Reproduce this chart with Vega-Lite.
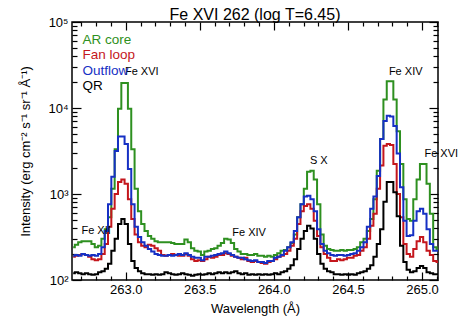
{
  "$schema": "https://vega.github.io/schema/vega-lite/v6.json",
  "width": 366,
  "height": 258,
  "autosize": {"type": "none"},
  "padding": {"left": 72, "top": 22, "right": 20, "bottom": 47},
  "title": {"text": "Fe XVI 262 (log T=6.45)", "fontSize": 16, "fontWeight": "normal", "font": "Liberation Sans", "offset": -7, "anchor": "middle", "color": "black"},
  "config": {
    "view": {"stroke": "black", "strokeWidth": 1.5},
    "font": "Liberation Sans",
    "axis": {"grid": false, "domain": false, "labelFont": "Liberation Sans", "titleFont": "Liberation Sans", "labelColor": "black", "titleColor": "black", "tickColor": "black", "tickWidth": 1.2, "labelFontSize": 13, "titleFontSize": 13, "titleFontWeight": "normal"}
  },
  "datasets": {
    "spec": [
      {"w":262.645,"AR core":240,"Fan loop":186,"Outflow":191,"QR":120},
      {"w":262.667,"AR core":257,"Fan loop":191,"Outflow":195,"QR":123},
      {"w":262.690,"AR core":275,"Fan loop":195,"Outflow":191,"QR":120},
      {"w":262.712,"AR core":282,"Fan loop":200,"Outflow":200,"QR":117},
      {"w":262.735,"AR core":282,"Fan loop":195,"Outflow":195,"QR":120},
      {"w":262.757,"AR core":282,"Fan loop":186,"Outflow":191,"QR":117},
      {"w":262.779,"AR core":263,"Fan loop":174,"Outflow":195,"QR":115},
      {"w":262.802,"AR core":240,"Fan loop":170,"Outflow":191,"QR":117},
      {"w":262.824,"AR core":251,"Fan loop":174,"Outflow":200,"QR":123},
      {"w":262.847,"AR core":302,"Fan loop":200,"Outflow":240,"QR":126},
      {"w":262.869,"AR core":389,"Fan loop":263,"Outflow":372,"QR":135},
      {"w":262.891,"AR core":537,"Fan loop":417,"Outflow":759,"QR":155},
      {"w":262.914,"AR core":1148,"Fan loop":676,"Outflow":1585,"QR":219},
      {"w":262.936,"AR core":3311,"Fan loop":1000,"Outflow":3162,"QR":302},
      {"w":262.959,"AR core":9772,"Fan loop":1380,"Outflow":4677,"QR":447},
      {"w":262.981,"AR core":19498,"Fan loop":1479,"Outflow":4677,"QR":513},
      {"w":263.003,"AR core":19498,"Fan loop":1318,"Outflow":3802,"QR":447},
      {"w":263.026,"AR core":9772,"Fan loop":871,"Outflow":1950,"QR":263},
      {"w":263.048,"AR core":3311,"Fan loop":513,"Outflow":759,"QR":166},
      {"w":263.071,"AR core":1148,"Fan loop":339,"Outflow":417,"QR":138},
      {"w":263.093,"AR core":631,"Fan loop":275,"Outflow":316,"QR":126},
      {"w":263.115,"AR core":447,"Fan loop":251,"Outflow":275,"QR":120},
      {"w":263.138,"AR core":372,"Fan loop":240,"Outflow":251,"QR":117},
      {"w":263.160,"AR core":324,"Fan loop":257,"Outflow":229,"QR":117},
      {"w":263.183,"AR core":302,"Fan loop":251,"Outflow":214,"QR":115},
      {"w":263.205,"AR core":282,"Fan loop":234,"Outflow":200,"QR":117},
      {"w":263.227,"AR core":275,"Fan loop":219,"Outflow":195,"QR":115},
      {"w":263.250,"AR core":275,"Fan loop":195,"Outflow":191,"QR":117},
      {"w":263.272,"AR core":275,"Fan loop":191,"Outflow":191,"QR":123},
      {"w":263.295,"AR core":275,"Fan loop":195,"Outflow":195,"QR":120},
      {"w":263.317,"AR core":269,"Fan loop":200,"Outflow":191,"QR":117},
      {"w":263.339,"AR core":263,"Fan loop":195,"Outflow":195,"QR":115},
      {"w":263.362,"AR core":263,"Fan loop":191,"Outflow":200,"QR":117},
      {"w":263.384,"AR core":263,"Fan loop":191,"Outflow":195,"QR":120},
      {"w":263.407,"AR core":295,"Fan loop":200,"Outflow":204,"QR":117},
      {"w":263.429,"AR core":275,"Fan loop":191,"Outflow":195,"QR":115},
      {"w":263.451,"AR core":234,"Fan loop":174,"Outflow":186,"QR":112},
      {"w":263.474,"AR core":219,"Fan loop":166,"Outflow":182,"QR":115},
      {"w":263.496,"AR core":214,"Fan loop":170,"Outflow":182,"QR":117},
      {"w":263.519,"AR core":195,"Fan loop":166,"Outflow":170,"QR":115},
      {"w":263.541,"AR core":214,"Fan loop":174,"Outflow":186,"QR":117},
      {"w":263.563,"AR core":219,"Fan loop":186,"Outflow":186,"QR":120},
      {"w":263.586,"AR core":229,"Fan loop":182,"Outflow":191,"QR":117},
      {"w":263.608,"AR core":234,"Fan loop":186,"Outflow":195,"QR":120},
      {"w":263.631,"AR core":251,"Fan loop":195,"Outflow":200,"QR":123},
      {"w":263.653,"AR core":269,"Fan loop":195,"Outflow":204,"QR":120},
      {"w":263.675,"AR core":302,"Fan loop":204,"Outflow":214,"QR":123},
      {"w":263.698,"AR core":295,"Fan loop":200,"Outflow":204,"QR":120},
      {"w":263.720,"AR core":269,"Fan loop":191,"Outflow":195,"QR":123},
      {"w":263.743,"AR core":229,"Fan loop":186,"Outflow":186,"QR":126},
      {"w":263.765,"AR core":214,"Fan loop":182,"Outflow":182,"QR":120},
      {"w":263.787,"AR core":200,"Fan loop":174,"Outflow":182,"QR":117},
      {"w":263.810,"AR core":200,"Fan loop":182,"Outflow":174,"QR":120},
      {"w":263.832,"AR core":195,"Fan loop":166,"Outflow":170,"QR":115},
      {"w":263.855,"AR core":195,"Fan loop":162,"Outflow":166,"QR":117},
      {"w":263.877,"AR core":200,"Fan loop":166,"Outflow":170,"QR":115},
      {"w":263.899,"AR core":191,"Fan loop":162,"Outflow":162,"QR":117},
      {"w":263.922,"AR core":191,"Fan loop":158,"Outflow":162,"QR":115},
      {"w":263.944,"AR core":186,"Fan loop":155,"Outflow":158,"QR":117},
      {"w":263.967,"AR core":191,"Fan loop":162,"Outflow":166,"QR":115},
      {"w":263.989,"AR core":186,"Fan loop":166,"Outflow":166,"QR":117},
      {"w":264.011,"AR core":195,"Fan loop":174,"Outflow":182,"QR":120},
      {"w":264.034,"AR core":204,"Fan loop":186,"Outflow":186,"QR":117},
      {"w":264.056,"AR core":219,"Fan loop":191,"Outflow":195,"QR":123},
      {"w":264.079,"AR core":224,"Fan loop":200,"Outflow":219,"QR":126},
      {"w":264.101,"AR core":240,"Fan loop":219,"Outflow":240,"QR":135},
      {"w":264.123,"AR core":269,"Fan loop":251,"Outflow":275,"QR":148},
      {"w":264.146,"AR core":339,"Fan loop":302,"Outflow":372,"QR":174},
      {"w":264.168,"AR core":537,"Fan loop":447,"Outflow":537,"QR":229},
      {"w":264.191,"AR core":759,"Fan loop":631,"Outflow":759,"QR":302},
      {"w":264.213,"AR core":1148,"Fan loop":724,"Outflow":933,"QR":372},
      {"w":264.235,"AR core":1820,"Fan loop":759,"Outflow":955,"QR":427},
      {"w":264.258,"AR core":1862,"Fan loop":676,"Outflow":871,"QR":398},
      {"w":264.280,"AR core":1479,"Fan loop":490,"Outflow":631,"QR":302},
      {"w":264.303,"AR core":759,"Fan loop":324,"Outflow":389,"QR":200},
      {"w":264.325,"AR core":339,"Fan loop":240,"Outflow":263,"QR":155},
      {"w":264.347,"AR core":251,"Fan loop":200,"Outflow":219,"QR":135},
      {"w":264.370,"AR core":229,"Fan loop":182,"Outflow":204,"QR":126},
      {"w":264.392,"AR core":224,"Fan loop":166,"Outflow":195,"QR":123},
      {"w":264.415,"AR core":219,"Fan loop":166,"Outflow":191,"QR":117},
      {"w":264.437,"AR core":219,"Fan loop":174,"Outflow":195,"QR":117},
      {"w":264.459,"AR core":224,"Fan loop":170,"Outflow":195,"QR":115},
      {"w":264.482,"AR core":219,"Fan loop":174,"Outflow":191,"QR":117},
      {"w":264.504,"AR core":224,"Fan loop":182,"Outflow":195,"QR":115},
      {"w":264.527,"AR core":224,"Fan loop":182,"Outflow":200,"QR":117},
      {"w":264.549,"AR core":229,"Fan loop":191,"Outflow":204,"QR":115},
      {"w":264.571,"AR core":240,"Fan loop":195,"Outflow":219,"QR":120},
      {"w":264.594,"AR core":275,"Fan loop":219,"Outflow":240,"QR":123},
      {"w":264.616,"AR core":302,"Fan loop":240,"Outflow":275,"QR":126},
      {"w":264.639,"AR core":372,"Fan loop":302,"Outflow":417,"QR":135},
      {"w":264.661,"AR core":513,"Fan loop":427,"Outflow":676,"QR":148},
      {"w":264.683,"AR core":871,"Fan loop":589,"Outflow":933,"QR":186},
      {"w":264.706,"AR core":1862,"Fan loop":1148,"Outflow":1622,"QR":263},
      {"w":264.728,"AR core":4365,"Fan loop":2138,"Outflow":4365,"QR":389},
      {"w":264.751,"AR core":12589,"Fan loop":3631,"Outflow":7079,"QR":813},
      {"w":264.773,"AR core":20417,"Fan loop":3802,"Outflow":8128,"QR":1380},
      {"w":264.795,"AR core":20417,"Fan loop":3715,"Outflow":7943,"QR":1380},
      {"w":264.818,"AR core":12589,"Fan loop":2239,"Outflow":6166,"QR":1047},
      {"w":264.840,"AR core":5370,"Fan loop":1000,"Outflow":2951,"QR":550},
      {"w":264.863,"AR core":2239,"Fan loop":537,"Outflow":1202,"QR":251},
      {"w":264.885,"AR core":871,"Fan loop":263,"Outflow":490,"QR":162},
      {"w":264.907,"AR core":513,"Fan loop":200,"Outflow":324,"QR":132},
      {"w":264.930,"AR core":490,"Fan loop":186,"Outflow":331,"QR":123},
      {"w":264.952,"AR core":871,"Fan loop":229,"Outflow":490,"QR":126},
      {"w":264.975,"AR core":1479,"Fan loop":282,"Outflow":631,"QR":138},
      {"w":264.997,"AR core":2239,"Fan loop":316,"Outflow":676,"QR":145},
      {"w":265.019,"AR core":2239,"Fan loop":275,"Outflow":589,"QR":138},
      {"w":265.042,"AR core":1318,"Fan loop":219,"Outflow":389,"QR":123},
      {"w":265.064,"AR core":589,"Fan loop":195,"Outflow":263,"QR":120},
      {"w":265.087,"AR core":240,"Fan loop":166,"Outflow":219,"QR":117},
      {"w":265.109,"AR core":229,"Fan loop":162,"Outflow":219,"QR":117}
    ],
    "labels": [
      {"w":263.108,"I":26300,"t":"Fe XVI"},
      {"w":262.80,"I":370,"t":"Fe XII"},
      {"w":263.833,"I":350,"t":"Fe XIV"},
      {"w":264.303,"I":2420,"t":"S X"},
      {"w":264.890,"I":26500,"t":"Fe XIV"},
      {"w":265.130,"I":2880,"t":"Fe XVI"}
    ]
  },
  "resolve": {"axis": {"x": "independent", "y": "independent"}},
  "layer": [
    {
      "data": {"name": "spec"},
      "transform": [{"fold": ["AR core", "Fan loop", "Outflow", "QR"], "as": ["series", "I"]}],
      "mark": {"type": "line", "interpolate": "step", "strokeWidth": 2, "clip": true},
      "encoding": {
        "x": {"field": "w", "type": "quantitative",
          "scale": {"domain": [262.637, 265.108], "nice": false, "zero": false},
          "axis": {"title": "Wavelength (Å)", "orient": "bottom",
            "values": [262.7,262.8,262.9,263.0,263.1,263.2,263.3,263.4,263.5,263.6,263.7,263.8,263.9,264.0,264.1,264.2,264.3,264.4,264.5,264.6,264.7,264.8,264.9,265.0,265.1],
            "labelExpr": "abs(datum.value * 2 - round(datum.value * 2)) < 0.01 ? format(datum.value, '.1f') : ''",
            "tickSize": {"condition": {"test": "abs(datum.value * 2 - round(datum.value * 2)) < 0.01", "value": -8}, "value": -4},
            "labelPadding": 11, "titlePadding": 2, "labelFlush": false, "labelOverlap": false}},
        "y": {"field": "I", "type": "quantitative",
          "scale": {"type": "log", "domain": [100, 100000], "nice": false},
          "axis": {"title": "Intensity (erg cm⁻² s⁻¹ sr⁻¹ Å⁻¹)", "orient": "left",
            "values": [100,200,300,400,500,600,700,800,900,1000,2000,3000,4000,5000,6000,7000,8000,9000,10000,20000,30000,40000,50000,60000,70000,80000,90000,100000],
            "labelExpr": "datum.value == 100 ? '10²' : datum.value == 1000 ? '10³' : datum.value == 10000 ? '10⁴' : datum.value == 100000 ? '10⁵' : ''",
            "tickSize": {"condition": {"test": "datum.value == 100 || datum.value == 1000 || datum.value == 10000 || datum.value == 100000", "value": -9}, "value": -5},
            "labelPadding": 13, "titlePadding": 15, "labelOverlap": false, "labelFlush": false}},
        "color": {"field": "series", "type": "nominal",
          "scale": {"domain": ["AR core", "Fan loop", "Outflow", "QR"], "range": ["#2e9020", "#c4161c", "#1630c4", "#000000"]},
          "legend": {"title": null, "orient": "none", "legendX": -3, "legendY": 11, "padding": 0, "symbolSize": 0, "symbolOpacity": 0, "symbolStrokeWidth": 0, "labelFontSize": 13.5, "labelOffset": 0, "rowPadding": 0.5, "labelFont": "Liberation Sans",
            "encode": {"labels": {"update": {"fill": {"scale": "color", "field": "value"}}}}}}
      }
    },
    {
      "mark": {"type": "rule", "strokeDash": [6, 4], "strokeWidth": 1, "color": "black"},
      "encoding": {
        "x": {"datum": 262.99, "type": "quantitative",
          "axis": {"orient": "top", "title": null, "labels": false,
            "values": [262.7,262.8,262.9,263.0,263.1,263.2,263.3,263.4,263.5,263.6,263.7,263.8,263.9,264.0,264.1,264.2,264.3,264.4,264.5,264.6,264.7,264.8,264.9,265.0,265.1],
            "tickSize": {"condition": {"test": "abs(datum.value * 2 - round(datum.value * 2)) < 0.01", "value": -8}, "value": -4}}},
        "y": {"datum": 100, "type": "quantitative",
          "axis": {"orient": "right", "title": null, "labels": false,
            "values": [100,200,300,400,500,600,700,800,900,1000,2000,3000,4000,5000,6000,7000,8000,9000,10000,20000,30000,40000,50000,60000,70000,80000,90000,100000],
            "tickSize": {"condition": {"test": "datum.value == 100 || datum.value == 1000 || datum.value == 10000 || datum.value == 100000", "value": -9}, "value": -5}}},
        "y2": {"datum": 30000}
      }
    },
    {
      "data": {"name": "labels"},
      "mark": {"type": "text", "fontSize": 11, "font": "Liberation Sans", "color": "black", "baseline": "middle", "align": "center"},
      "encoding": {
        "x": {"field": "w", "type": "quantitative", "axis": null},
        "y": {"field": "I", "type": "quantitative", "axis": null},
        "text": {"field": "t"}
      }
    }
  ]
}
